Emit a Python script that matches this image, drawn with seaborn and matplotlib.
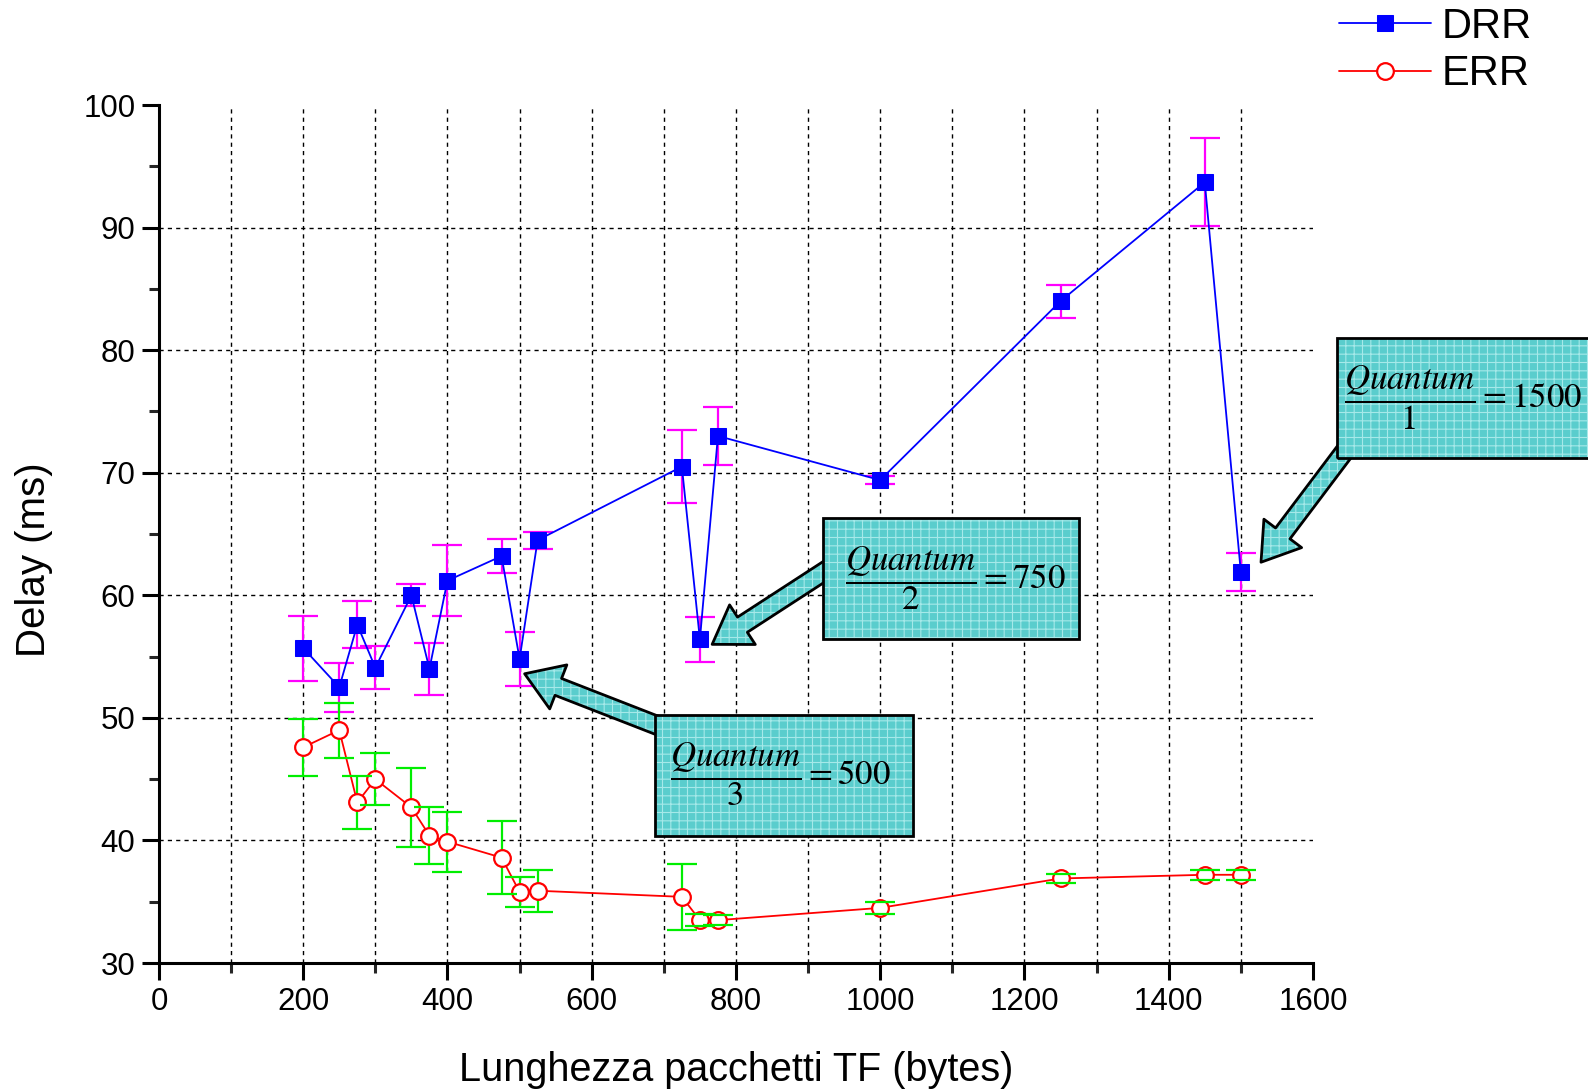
import matplotlib
matplotlib.use("Agg")
import matplotlib.pyplot as plt
import seaborn as sns
import pandas as pd
from matplotlib.ticker import MultipleLocator
from matplotlib.patches import FancyArrowPatch, Rectangle

# ---- data ----
packet_len = [200, 250, 275, 300, 350, 375, 400, 475, 500, 525, 725, 750, 775, 1000, 1250, 1450, 1500]
drr_delay = [55.7, 52.5, 57.6, 54.1, 60.0, 54.0, 61.2, 63.2, 54.8, 64.5, 70.5, 56.4, 73.0, 69.4, 84.0, 93.7, 61.9]
drr_err = [2.65, 2.0, 1.9, 1.75, 0.9, 2.1, 2.9, 1.4, 2.2, 0.7, 3.0, 1.8, 2.35, 0.35, 1.35, 3.6, 1.55]
err_delay = [47.6, 49.0, 43.1, 45.0, 42.7, 40.4, 39.9, 38.6, 35.8, 35.9, 35.4, 33.5, 33.5, 34.5, 36.9, 37.2, 37.2]
err_err = [2.3, 2.25, 2.2, 2.1, 3.2, 2.35, 2.45, 3.0, 1.25, 1.7, 2.7, 0.5, 0.4, 0.5, 0.4, 0.4, 0.4]

series_names = ["DRR", "ERR"]
x_label = "Lunghezza pacchetti TF (bytes)"
y_label = "Delay (ms)"
annot_texts = [r"$\dfrac{Quantum}{1}=1500$",
               r"$\dfrac{Quantum}{2}=750$",
               r"$\dfrac{Quantum}{3}=500$"]

sns.set_theme(style="white")
plt.rcParams["font.family"] = ["Liberation Sans", "DejaVu Sans"]
plt.rcParams["mathtext.fontset"] = "stix"
plt.rcParams["hatch.linewidth"] = 0.8
plt.rcParams["text.color"] = "black"
plt.rcParams["axes.labelcolor"] = "black"

df = pd.DataFrame({"len": packet_len, "drr": drr_delay, "drr_e": drr_err,
                   "err": err_delay, "err_e": err_err})

fig = plt.figure(figsize=(15.88, 10.92), dpi=100)
ax = fig.add_axes([0.1001, 0.1181, 0.7267, 0.7857])

# grid
for gx in range(100, 1600, 100):
    ax.axvline(gx, color="black", lw=1.0, ls=(0, (3, 3)), zorder=0)
for gy in range(40, 100, 10):
    ax.axhline(gy, color="black", lw=1.0, ls=(0, (3, 3)), zorder=0)

# error bars
l1, caps1, bars1 = ax.errorbar(df["len"], df["drr"], yerr=df["drr_e"], fmt="none",
                               ecolor="#FF00FF", elinewidth=1.6, capsize=11, capthick=1.6, zorder=2)
l2, caps2, bars2 = ax.errorbar(df["len"], df["err"], yerr=df["err_e"], fmt="none",
                               ecolor="#00EE00", elinewidth=1.6, capsize=11, capthick=1.6, zorder=2)
for c in caps2:
    c.set_zorder(4)

sns.lineplot(data=df, x="len", y="drr", ax=ax, sort=False, estimator=None,
             color="#0000FF", lw=1.3, marker="s", markersize=11,
             markerfacecolor="#0000FF", markeredgecolor="#0000FF", label=series_names[0], zorder=3)
sns.lineplot(data=df, x="len", y="err", ax=ax, sort=False, estimator=None,
             color="#FF0000", lw=1.3, marker="o", markersize=12,
             markerfacecolor="white", markeredgecolor="#FF0000", markeredgewidth=1.6,
             label=series_names[1], zorder=3)

ax.set_xlim(0, 1600)
ax.set_ylim(30, 100)
ax.xaxis.set_major_locator(MultipleLocator(200))
ax.xaxis.set_minor_locator(MultipleLocator(100))
ax.yaxis.set_major_locator(MultipleLocator(10))
ax.yaxis.set_minor_locator(MultipleLocator(5))
ax.tick_params(which="major", direction="out", length=12, width=2.2, labelsize=22.5,
               color="black", labelcolor="black", bottom=True, left=True, pad=5)
ax.tick_params(which="minor", direction="out", length=7, width=2.2, bottom=True, left=True)
for s in ["top", "right"]:
    ax.spines[s].set_visible(False)
for s in ["left", "bottom"]:
    ax.spines[s].set_color("black")
    ax.spines[s].set_linewidth(2.2)
ax.set_facecolor("white")

ax.set_xlabel(x_label, fontsize=28.5, color="black")
ax.set_ylabel(y_label, fontsize=29, color="black")
ax.xaxis.set_label_coords(0.5, -0.103)
ax.yaxis.set_label_coords(-0.092, 0.47)

handles, labels = ax.get_legend_handles_labels()
ax.get_legend().remove()
fig.legend(handles, labels, loc="upper right", bbox_to_anchor=(0.988, 1.028),
           frameon=False, fontsize=30, handlelength=2.2, handletextpad=0.25,
           labelspacing=0.18)

# annotations
cyan = "#5ACDCD"
hatch_c = "#A6E9E9"
arrows = [((1660, 73.0), (1528, 62.7)),
          ((945, 62.8), (767, 56.0)),
          ((712, 48.9), (507, 53.6))]
# (x0, y0, width, height) in data units
box_rects = [(1633, 71.2, 400, 9.8), (920, 56.45, 355, 9.85), (688, 40.4, 357, 9.85)]
text_pos = [(1808, 76.1), (1104, 61.4), (862, 45.4)]
astyle = "simple,head_length=1.3,head_width=1.7,tail_width=0.65"
for (base, tip) in arrows:
    a1 = FancyArrowPatch(posA=base, posB=tip, arrowstyle=astyle, mutation_scale=20,
                         fc=cyan, ec=hatch_c, hatch="++", lw=0, shrinkA=0, shrinkB=0,
                         zorder=5, clip_on=False)
    a2 = FancyArrowPatch(posA=base, posB=tip, arrowstyle=astyle, mutation_scale=20,
                         fc="none", ec="black", lw=2, shrinkA=0, shrinkB=0,
                         zorder=5, clip_on=False)
    ax.add_patch(a1)
    ax.add_patch(a2)

for txt, (x0, y0, w, h), (tx, ty) in zip(annot_texts, box_rects, text_pos):
    ax.add_patch(Rectangle((x0, y0), w, h, fc=cyan, ec=hatch_c, hatch="++", lw=0,
                           zorder=6, clip_on=False))
    ax.add_patch(Rectangle((x0, y0), w, h, fc="none", ec="black", lw=2,
                           zorder=7, clip_on=False))
    ax.text(tx, ty, txt, fontsize=25, ha="center", va="center", color="black",
            zorder=8, clip_on=False)

fig.savefig("out.png", dpi=100, facecolor="white")
